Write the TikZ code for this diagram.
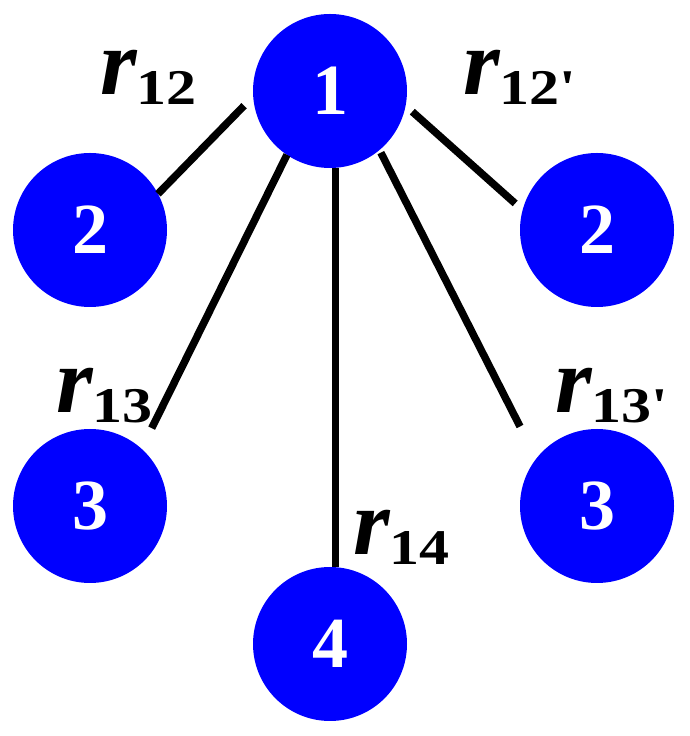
\documentclass[tikz,border=0pt]{standalone}
\usepackage{fontspec}
\setmainfont{Liberation Serif}[Ligatures=TeXOff]
\usetikzlibrary{positioning}
\definecolor{atomblue}{RGB}{0,0,255}
\newcommand{\distlabel}[1]{%
  {\fontsize{94}{94}\selectfont\bfseries\itshape r}%
  \raisebox{-10pt}{\scalebox{1.2}[1]{\fontsize{50}{50}\selectfont\bfseries #1}}}
\tikzset{
  atom/.style={
    circle, fill=atomblue, draw=none,
    minimum size=154pt, inner sep=0pt, outer sep=0pt,
    font=\fontsize{72}{72}\selectfont\bfseries, text=white
  },
  bond/.style={
    draw=black, line width=7.5pt, line cap=butt
  },
  rlabel/.style={
    inner sep=0pt, anchor=base west, text=black
  },
}
\begin{document}
\begin{tikzpicture}[x=1pt, y=1pt]
  \useasboundingbox (0,0) rectangle (689,736);

  %% Atoms
  \node[atom] (one) at (330,645) {1};
  \node[atom, below=-15pt of one, xshift=-240pt] (twoL) {2};
  \node[atom, below=-15pt of one, xshift=267pt] (twoR) {2};
  \node[atom, below=261pt of one, xshift=-240pt] (threeL) {3};
  \node[atom, below=261pt of one, xshift=267pt] (threeR) {3};
  \node[atom, below=399pt of one] (four) {4};

  %% Bonds from atom 1
  \draw[bond, shorten <=13pt] (one.184) -- (twoL.28);
  \draw[bond, shorten <=9pt, shorten >=10pt] (one.349) -- (twoR.165);
  \draw[bond, shorten >=23pt] (one.236) -- (threeL.48);
  \draw[bond] (one.274) -- (four.86);
  \draw[bond, shorten <=3pt, shorten >=36pt] (one.310) -- (threeR.142);

  %% Distance labels
  \node[rlabel] (l12) at (100,641) {\distlabel{12}};
  \node[rlabel] (l12p) at (463,641) {\distlabel{12'}};
  \node[rlabel] (l13) at (56,323) {\distlabel{13}};
  \node[rlabel] (l13p) at (555,323) {\distlabel{13'}};
  \node[rlabel] (l14) at (353,181) {\distlabel{14}};

\end{tikzpicture}
\end{document}
